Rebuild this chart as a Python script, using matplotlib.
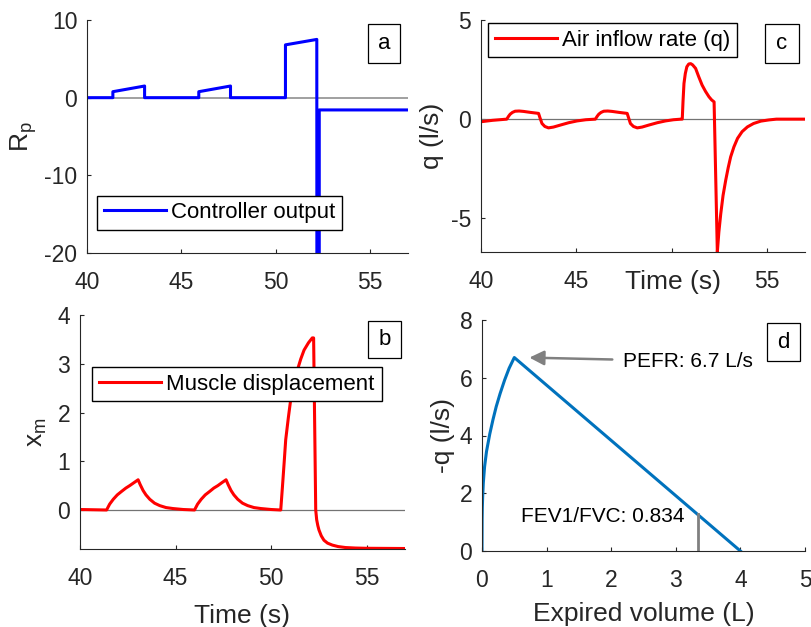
import numpy as np
import matplotlib.pyplot as plt
from matplotlib.patches import Rectangle

plt.rcParams['font.family'] = ['Liberation Sans', 'DejaVu Sans']
plt.rcParams['mathtext.fontset'] = 'custom'
plt.rcParams['mathtext.rm'] = 'Liberation Sans'
plt.rcParams['axes.unicode_minus'] = False

# (a) controller output R_p
t_rp = [40, 41.37, 41.37, 43.05, 43.05, 45.92, 45.92, 47.6, 47.6, 50.51, 50.51,
        52.17, 52.18, 52.3, 52.3, 57]
rp = [0, 0, 0.77, 1.5, 0, 0, 0.77, 1.5, 0, 0, 6.8, 7.5, -60, -60, -1.58, -1.58]

# (c) air inflow rate q
t_q = [40, 40.6, 41.35, 41.45, 41.53, 41.65, 41.79, 42.0, 42.23, 42.6, 43.02, 43.1,
       43.2, 43.35, 43.54, 43.8, 44.16, 44.6, 45.04, 45.5, 46.0,
       46.1, 46.18, 46.3, 46.44, 46.65, 46.88, 47.25, 47.67, 47.75, 47.84, 48.0,
       48.2, 48.45, 48.8, 49.25, 49.68, 50.1, 50.5,
       50.56, 50.6, 50.65, 50.72, 50.8, 50.9, 51.0, 51.1, 51.26, 51.42, 51.6, 51.78,
       51.96, 52.1, 52.23,
       52.4, 52.48, 52.58, 52.7, 52.84, 52.97, 53.1, 53.27, 53.46, 53.7, 53.98, 54.3,
       54.68, 55.1, 55.5, 57]
q = [-0.13, -0.06, 0, 0.15, 0.25, 0.34, 0.4, 0.41, 0.39, 0.34, 0.29, 0.05,
     -0.22, -0.37, -0.44, -0.4, -0.3, -0.18, -0.09, -0.03, 0,
     0.15, 0.25, 0.34, 0.4, 0.41, 0.39, 0.34, 0.29, 0.05, -0.22, -0.37,
     -0.44, -0.4, -0.3, -0.18, -0.09, -0.03, 0,
     0, 0.9, 1.8, 2.3, 2.64, 2.78, 2.8, 2.74, 2.56, 2.15, 1.72, 1.4,
     1.13, 0.97, 0.87,
     -6.7, -5.7, -4.77, -3.85, -3.08, -2.45, -1.9, -1.4, -0.97, -0.63, -0.39, -0.22,
     -0.1, -0.04, 0, 0]

# (b) muscle displacement x_m
t_x = [40, 41.39, 41.55, 41.74, 41.95, 42.17, 42.4, 42.6, 42.82, 43.04,
       43.15, 43.3, 43.45, 43.65, 43.9, 44.17, 44.5, 44.86, 45.4, 45.99,
       46.15, 46.34, 46.55, 46.78, 47.0, 47.21, 47.42, 47.64,
       47.75, 47.9, 48.05, 48.25, 48.5, 48.77, 49.1, 49.46, 50.0, 50.5,
       50.59, 50.68, 50.76, 50.9, 51.02, 51.2, 51.37, 51.55, 51.72, 51.95, 52.15, 52.22,
       52.33, 52.38, 52.44, 52.5, 52.62, 52.76, 52.95, 53.2, 53.5, 53.89, 54.4, 54.93, 57]
x_m = [0.01, 0, 0.12, 0.22, 0.31, 0.38, 0.45, 0.5, 0.56, 0.62,
       0.52, 0.4, 0.31, 0.22, 0.14, 0.09, 0.05, 0.03, 0.01, 0,
       0.12, 0.22, 0.31, 0.38, 0.45, 0.5, 0.56, 0.62,
       0.52, 0.4, 0.31, 0.22, 0.14, 0.09, 0.05, 0.03, 0.01, 0,
       0.48, 0.98, 1.44, 1.9, 2.26, 2.6, 2.87, 3.1, 3.28, 3.43, 3.53, 3.53,
       0, -0.2, -0.32, -0.41, -0.53, -0.62, -0.68, -0.72, -0.75, -0.77, -0.78, -0.785, -0.79]

# (d) flow-volume loop
vol = [0, 0.002, 0.005, 0.01, 0.02, 0.04, 0.07, 0.12, 0.17, 0.22, 0.28, 0.35,
       0.42, 0.5, 4.0]
flow = [0, 1.1, 1.5, 1.85, 2.35, 2.92, 3.45, 4.05, 4.55, 5.0, 5.45, 5.92,
        6.33, 6.7, 0]
pefr = 6.7
fvc = 4.0
fev1_fvc = 0.834

W, H = 811, 627
dark = '#262626'
lab_fs = 19
tick_fs = 16.5


def rect(l, t, r, b):
    return [l / W, 1 - b / H, (r - l) / W, (b - t) / H]


def style(ax):
    for s in ['top', 'right']:
        ax.spines[s].set_visible(False)
    for s in ['left', 'bottom']:
        ax.spines[s].set_color(dark)
        ax.spines[s].set_linewidth(0.8)
    ax.tick_params(direction='in', length=3, width=0.8, colors=dark, labelsize=tick_fs)
    ax.tick_params(axis='x', pad=13)
    ax.tick_params(axis='y', pad=7)


def letter(ch, l, t, r, b):
    fig.patches.append(Rectangle((l / W, 1 - b / H), (r - l) / W, (b - t) / H,
                                 transform=fig.transFigure, fc='white', ec='black', lw=0.9))
    fig.text((l + r) / 2 / W, 1 - (t + b) / 2 / H, ch, ha='center', va='center',
             fontsize=16, color='black')


leg_kw = dict(fontsize=16, frameon=True, fancybox=False, framealpha=1, edgecolor='black',
              handlelength=2.8, handletextpad=0.25, borderpad=0.3, borderaxespad=0)

fig = plt.figure(figsize=(8.11, 6.27), dpi=100)

# panel a
ax_a = fig.add_axes(rect(87, 20, 408, 253))
style(ax_a)
ax_a.axhline(0, color='0.6', lw=1.3)
ax_a.plot(t_rp, rp, color='blue', lw=2.2, label='Controller output')
ax_a.set_xlim(40, 57)
ax_a.set_ylim(-20, 10)
ax_a.set_xticks([40, 45, 50, 55])
ax_a.set_yticks([-20, -10, 0, 10])
ax_a.set_ylabel(r'R$_\mathregular{p}$', fontsize=lab_fs, color=dark, labelpad=4)
ax_a.legend(loc='lower left', bbox_to_anchor=(0.031, 0.099), **leg_kw)

# panel c
ax_c = fig.add_axes(rect(481, 20, 805, 252))
style(ax_c)
ax_c.axhline(0, color='0.45', lw=0.9)
ax_c.plot(t_q, q, color='red', lw=2.2, label='Air inflow rate (q)')
ax_c.set_xlim(40, 57)
ax_c.set_ylim(-6.7, 5)
ax_c.set_xticks([40, 45, 50, 55])
ax_c.set_xticklabels(['40', '45', '', '55'])
ax_c.set_yticks([-5, 0, 5])
ax_c.set_ylabel('q (l/s)', fontsize=lab_fs, color=dark, labelpad=5)
ax_c.set_xlabel('Time (s)', fontsize=lab_fs, color=dark, va='center')
ax_c.xaxis.set_label_coords(0.593, -0.13)
ax_c.legend(loc='upper left', bbox_to_anchor=(0.0216, 0.987), **leg_kw)

# panel b
ax_b = fig.add_axes(rect(80, 315, 405, 549))
style(ax_b)
ax_b.axhline(0, color='0.45', lw=0.9)
ax_b.plot(t_x, x_m, color='red', lw=2.2, label='Muscle displacement')
ax_b.set_xlim(40, 57)
ax_b.set_ylim(-0.8, 4)
ax_b.set_xticks([40, 45, 50, 55])
ax_b.set_yticks([0, 1, 2, 3, 4])
ax_b.set_ylabel(r'x$_\mathregular{m}$', fontsize=lab_fs, color=dark, labelpad=6)
ax_b.set_xlabel('Time (s)', fontsize=lab_fs, color=dark, labelpad=10)
ax_b.legend(loc='upper left', bbox_to_anchor=(0.037, 0.778), **leg_kw)

# panel d
ax_d = fig.add_axes(rect(482, 320, 805, 551))
style(ax_d)
ax_d.plot(vol, flow, color='#0072BD', lw=2.2)
fev1 = fev1_fvc * fvc
ax_d.plot([fev1, fev1], [0, np.interp(fev1, vol[-2:], flow[-2:])], color='0.5', lw=2)
ax_d.annotate('', xy=(0.69, pefr), xytext=(2.06, 6.63),
              arrowprops=dict(arrowstyle='-|>', color='0.5', lw=1.8, mutation_scale=22))
ax_d.text(2.19, 6.58, 'PEFR: %.1f L/s' % pefr, fontsize=15, ha='left', va='center')
ax_d.text(0.6, 1.18, 'FEV1/FVC: %.3f' % fev1_fvc, fontsize=15, ha='left', va='center')
ax_d.set_xlim(0, 5)
ax_d.set_ylim(0, 8)
ax_d.set_xticks([0, 1, 2, 3, 4, 5])
ax_d.set_yticks([0, 2, 4, 6, 8])
ax_d.set_ylabel('-q (l/s)', fontsize=lab_fs, color=dark, labelpad=3)
ax_d.set_xlabel('Expired volume (L)', fontsize=lab_fs, color=dark, labelpad=7)

letter('a', 368, 24, 400, 63)
letter('c', 765, 24, 799, 63)
letter('b', 368, 321, 401, 358)
letter('d', 767, 323, 800, 361)

fig.savefig('out.png', dpi=100)
